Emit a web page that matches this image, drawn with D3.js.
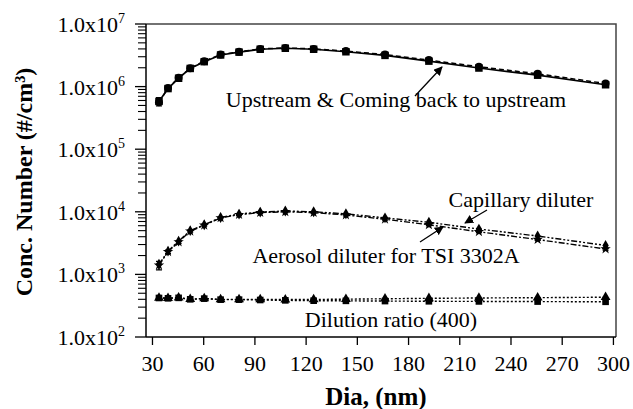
<!DOCTYPE html>
<html><head><meta charset="utf-8">
<script src="https://cdn.jsdelivr.net/npm/d3@7"></script>
<style>body{margin:0;background:#fff}svg{display:block}</style>
</head><body><svg id="c" width="633" height="409"></svg>
<script>
// ---- data ----
const dia = [34.1, 39.4, 45.6, 52.4, 60.6, 70.2, 81.0, 93.4, 108.1, 124.7, 143.6, 166.5, 192.2, 221.5, 255.9, 295.7];
const upstream   = [5.8e5, 9.3e5, 1.36e6, 1.95e6, 2.5e6, 3.2e6, 3.55e6, 3.95e6, 4.1e6, 3.95e6, 3.6e6, 3.15e6, 2.55e6, 1.98e6, 1.52e6, 1.07e6];
const comingBack = [5.6e5, 9.5e5, 1.38e6, 1.97e6, 2.55e6, 3.25e6, 3.6e6, 4.0e6, 4.15e6, 4.0e6, 3.7e6, 3.25e6, 2.65e6, 2.08e6, 1.6e6, 1.12e6];
const errUpstream = [9e4, 7e4, 9e4, 1e5, 1e5, 1.2e5, 1.2e5, 1.2e5, 1.2e5, 1.2e5, 1.2e5, 1e5, 1e5, 8e4, 6e4, 5e4];
const aerosol    = [1.4e3, 2.3e3, 3.3e3, 4.9e3, 6.1e3, 8.0e3, 9.0e3, 9.7e3, 1.0e4, 9.7e3, 8.9e3, 7.6e3, 6.2e3, 4.8e3, 3.6e3, 2.55e3];
const capillary  = [1.45e3, 2.35e3, 3.4e3, 5.0e3, 6.2e3, 8.1e3, 9.2e3, 9.9e3, 1.03e4, 1.0e4, 9.3e3, 8.0e3, 6.8e3, 5.3e3, 4.1e3, 2.9e3];
const errAerosol = [2.2e2, 1.5e2, 1.6e2, 1.8e2, 2e2, 2.5e2, 3e2, 3e2, 3e2, 3e2, 3e2, 2.5e2, 2e2, 1.5e2, 1.2e2, 1e2];
const ratioSquare   = [420, 415, 422, 400, 410, 395, 395, 390, 385, 380, 378, 375, 372, 370, 368, 365];
const ratioTriangle = [422, 418, 426, 402, 412, 398, 400, 398, 396, 398, 402, 408, 415, 420, 425, 432];
const xTicks = [30, 60, 90, 120, 150, 180, 210, 240, 270, 300];
const yExponents = [2, 3, 4, 5, 6, 7];
const labels = {
  x: "Dia, (nm)",
  y: "Conc. Number (#/cm\u00B3)",
  upstream: "Upstream & Coming back to upstream",
  capillary: "Capillary diluter",
  aerosol: "Aerosol diluter for TSI 3302A",
  ratio: "Dilution ratio (400)"
};

// ---- layout ----
const L = 146, R = 616, T = 24, B = 337;
const font = "'Liberation Serif','Times New Roman',serif";
const svg = d3.select("#c");
const x = d3.scaleLinear().domain([26.5, 301.8]).range([L, R]);
const y = d3.scaleLog().domain([100, 1e7]).range([B, T]);

// box (top/right)
svg.append("path").attr("d", `M${L},${T}H${R}V${B}`).attr("fill", "none")
  .attr("stroke", "#444").attr("stroke-width", 1.5);

// x axis
const gx = svg.append("g").attr("transform", `translate(0,${B})`)
  .call(d3.axisBottom(x).tickValues(xTicks).tickSize(8).tickPadding(10).tickFormat(d3.format("d")));
gx.select(".domain").attr("stroke", "#000").attr("stroke-width", 1.5).attr("d", `M${L},0H${R}`);
gx.selectAll(".tick line").attr("stroke", "#000").attr("stroke-width", 1.3);
gx.selectAll(".tick text").attr("font-family", font).attr("font-size", 22).attr("fill", "#000");

// y axis with log minor ticks
const gy = svg.append("g").attr("transform", `translate(${L},0)`);
gy.append("line").attr("x1", 0).attr("x2", 0).attr("y1", T).attr("y2", B).attr("stroke", "#000").attr("stroke-width", 1.5);
const minor = y.ticks().filter(v => !yExponents.some(e => Math.abs(v - Math.pow(10, e)) < 1e-6));
gy.selectAll("line.minor").data(minor).join("line").attr("class", "minor")
  .attr("x1", -8).attr("x2", 0).attr("y1", d => y(d)).attr("y2", d => y(d))
  .attr("stroke", "#000").attr("stroke-width", 1.1);
gy.selectAll("line.major").data(yExponents).join("line").attr("class", "major")
  .attr("x1", -11).attr("x2", 0).attr("y1", d => y(Math.pow(10, d))).attr("y2", d => y(Math.pow(10, d)))
  .attr("stroke", "#000").attr("stroke-width", 1.3);
const yl = svg.selectAll("text.ylab").data(yExponents).join("text").attr("class", "ylab")
  .attr("x", 125).attr("y", d => y(Math.pow(10, d)) + 8)
  .attr("text-anchor", "end").attr("font-family", font).attr("font-size", 22).attr("fill", "#000");
yl.append("tspan").text("1.0x10");
yl.append("tspan").attr("dy", -9).attr("font-size", 14).text(d => d);

// axis titles
svg.append("text").attr("x", 376).attr("y", 405).attr("text-anchor", "middle")
  .attr("font-family", font).attr("font-weight", "bold").attr("font-size", 25).text(labels.x);
svg.append("text").attr("transform", "translate(32,182) rotate(-90)").attr("text-anchor", "middle")
  .attr("font-family", font).attr("font-weight", "bold").attr("font-size", 24).text(labels.y);

// series
const series = [
  {v: upstream, err: errUpstream, dash: null, sym: d3.symbolSquare, size: 56, w: 1.7},
  {v: comingBack, err: null, dash: "5,3", sym: d3.symbolCircle, size: 50, w: 1.5},
  {v: aerosol, err: errAerosol, dash: "6,2,2,2", sym: d3.symbolStar, size: 34, w: 1.4},
  {v: capillary, err: null, dash: "6,2,2,2,2,2", sym: d3.symbolDiamond, size: 34, w: 1.4},
  {v: ratioSquare, err: null, dash: "2,2", sym: d3.symbolSquare, size: 44, w: 1.4},
  {v: ratioTriangle, err: null, dash: "2,2", sym: d3.symbolTriangle, size: 42, w: 1.4}
];
const line = d3.line().x(d => x(d[0])).y(d => y(d[1]));
series.forEach(s => {
  const pts = dia.map((d, i) => [d, s.v[i]]);
  svg.append("path").attr("d", line(pts)).attr("fill", "none").attr("stroke", "#000")
    .attr("stroke-width", s.w).attr("stroke-dasharray", s.dash);
  if (s.err) {
    svg.append("g").selectAll("path").data(pts).join("path")
      .attr("d", (d, i) => {
        const y1 = y(d[1] - s.err[i]), y2 = y(d[1] + s.err[i]), cx = x(d[0]);
        return `M${cx},${y1}V${y2}M${cx-3},${y1}h6M${cx-3},${y2}h6`;
      })
      .attr("stroke", "#000").attr("stroke-width", 1.2).attr("fill", "none");
  }
  svg.append("g").selectAll("path").data(pts).join("path")
    .attr("transform", d => `translate(${x(d[0])},${y(d[1])})`)
    .attr("d", d3.symbol().type(s.sym).size(s.size)).attr("fill", "#000");
});

// annotations
const ann = (t, cx, cy) => svg.append("text").attr("x", cx).attr("y", cy).attr("text-anchor", "middle")
  .attr("font-family", font).attr("font-size", 22).attr("fill", "#000").text(t);
ann(labels.upstream, 396, 107);
ann(labels.capillary, 521, 207);
ann(labels.aerosol, 386, 263);
ann(labels.ratio, 391, 327);

svg.append("defs").append("marker").attr("id", "ah").attr("viewBox", "0 0 10 10")
  .attr("refX", 9).attr("refY", 5).attr("markerWidth", 9).attr("markerHeight", 9)
  .attr("markerUnits", "userSpaceOnUse").attr("orient", "auto")
  .append("path").attr("d", "M0,0L10,5L0,10z").attr("fill", "#000");
const arrow = (x1, y1, x2, y2) => svg.append("line").attr("x1", x1).attr("y1", y1).attr("x2", x2).attr("y2", y2)
  .attr("stroke", "#000").attr("stroke-width", 1.3).attr("marker-end", "url(#ah)");
arrow(415, 96, 442, 67);
arrow(487, 210, 465, 223);
arrow(420, 242, 443, 227);
</script></body></html>
